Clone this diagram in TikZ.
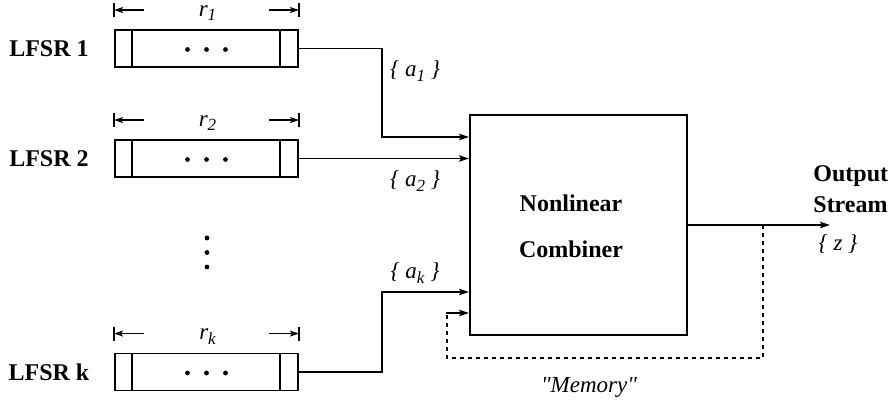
\documentclass[tikz,border=0pt]{standalone}
\usepackage{fontspec}
\setmainfont{Liberation Serif}
\usetikzlibrary{arrows.meta,calc}
\newcommand\lsub[1]{\raisebox{-0.4ex}{\fontsize{8.5}{9}\selectfont #1}}
\begin{document}
\begin{tikzpicture}[x=0.5pt,y=-0.5pt,
  lfsrbox/.style={draw,line width=0.95pt,minimum width=91.5pt,minimum height=18.5pt,inner sep=0pt},
  combbox/.style={draw,line width=0.95pt,minimum width=108.5pt,minimum height=110pt,inner sep=0pt},
  boldlabel/.style={font=\fontsize{12}{14}\selectfont\bfseries,inner sep=0pt},
  itlabel/.style={font=\fontsize{11.5}{13}\selectfont\itshape,inner sep=0pt},
  conn/.style={line width=0.85pt},
  arr/.style={conn,-{Stealth[length=5pt,width=3.2pt,inset=1pt]}},
  memline/.style={line width=0.75pt,dash pattern=on 2pt off 2pt},
  dimline/.style={line width=0.75pt}
]
\useasboundingbox (0,0) rectangle (889,405);

% LFSR boxes
\foreach \n/\y/\lab/\r in {1/48.5/1/1, 2/158.5/2/2, k/372/k/k}{
  \node[lfsrbox] (b\n) at (206.5,\y) {};
  \draw[line width=0.95pt] ($(b\n.north west)+(18,0)$) -- ($(b\n.south west)+(18,0)$);
  \draw[line width=0.95pt] ($(b\n.north east)+(-19,0)$) -- ($(b\n.south east)+(-19,0)$);
  \fill ($(b\n.center)+(-19,1)$) circle (1.2pt);
  \fill ($(b\n.center)+(0,1)$) circle (1.2pt);
  \fill ($(b\n.center)+(19,1)$) circle (1.2pt);
  \node[boldlabel] (l\n) at (49,\y) {LFSR \lab};
  % dimension markers
  \coordinate (dl\n) at ($(b\n.north west)+(0,-19)$);
  \coordinate (dr\n) at ($(b\n.north east)+(0,-19)$);
  \draw[dimline] ($(dl\n)+(0,-7)$) -- ($(dl\n)+(0,7)$);
  \draw[dimline] ($(dr\n)+(0,-7)$) -- ($(dr\n)+(0,7)$);
  \draw[dimline,-{Stealth[length=4.5pt,width=3pt,inset=1pt]}] ($(dl\n)+(30,0)$) -- (dl\n);
  \draw[dimline,-{Stealth[length=4.5pt,width=3pt,inset=1pt]}] ($(dr\n)+(-30,0)$) -- (dr\n);
  \node[itlabel] (r\n) at ($(b\n.north)+(1,-16)$) {r\lsub{\r}};
}

% vertical dots
\fill (207,238) circle (1.2pt);
\fill (207,252.5) circle (1.2pt);
\fill (207,267) circle (1.2pt);

% combiner
\node[combbox] (comb) at (578.5,225) {};
\node[boldlabel] (t1) at (571,203) {Nonlinear};
\node[boldlabel] (t2) at (571,249) {Combiner};

% input connectors
\coordinate (in1) at (comb.west |- 0,137);
\coordinate (in2) at (comb.west |- b2.east);
\coordinate (ink) at (comb.west |- 0,292);
\coordinate (inm) at (comb.west |- 0,313);
\draw[arr] (b1.east) -| (382,137) -- (in1);
\draw[arr] (b2.east) -- (in2);
\draw[arr] (bk.east) -| (382,292) -- (ink);

\node[itlabel] (a1) at (415,71) {\{ a\lsub{1} \}};
\node[itlabel] (a2) at (415,181) {\{ a\lsub{2} \}};
\node[itlabel] (ak) at (415,273) {\{ a\lsub{k} \}};

% output
\coordinate (outend) at (830,225);
\coordinate (tap) at (763,225);
\draw[arr] (comb.east) -- (outend);
\node[boldlabel,anchor=west] (o1) at (813,176) {Output};
\node[boldlabel,anchor=west] (o2) at (813,205) {Stream};
\node[itlabel] (z) at (838,244) {\{ z \}};

% memory feedback
\draw[memline] (tap) -- (763,358) -- (447,358) -- (447,313);
\draw[arr,shorten <=-0.35pt] (447,313) -- (inm);
\node[itlabel] (mem) at (589,387) {\addfontfeatures{Ligatures=TeXOff}"Memory"};
\end{tikzpicture}
\end{document}
